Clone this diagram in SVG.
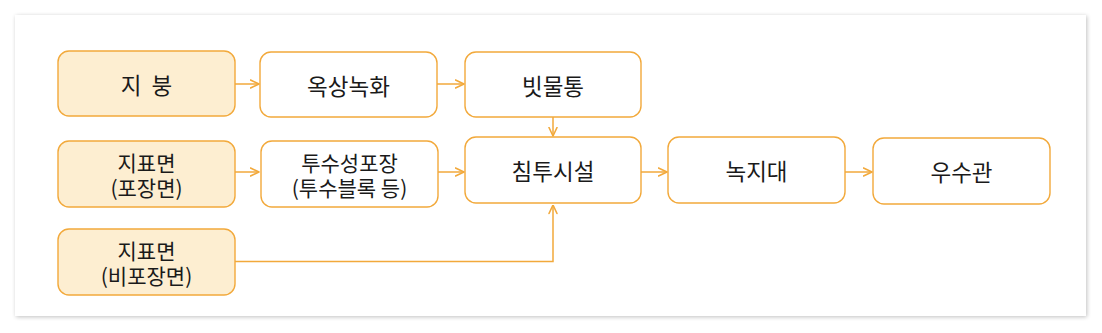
<svg xmlns="http://www.w3.org/2000/svg" width="1102" height="333" viewBox="0 0 1102 333">
  <defs>
    <filter id="sh" x="-5%" y="-10%" width="110%" height="120%">
      <feGaussianBlur in="SourceAlpha" stdDeviation="2"/>
      <feOffset dx="1" dy="1"/>
      <feComponentTransfer><feFuncA type="linear" slope="0.25"/></feComponentTransfer>
      <feMerge><feMergeNode/><feMergeNode in="SourceGraphic"/></feMerge>
    </filter>
    <marker id="ah" viewBox="0 0 10 10" refX="9.5" refY="5" markerWidth="10" markerHeight="10" markerUnits="userSpaceOnUse" orient="auto">
      <path d="M1,1 L9.5,5 L1,9" fill="none" stroke="#f2a93b" stroke-width="1.6" stroke-linejoin="round" stroke-linecap="round"/>
    </marker>
    <style>
      .box { fill: #ffffff; stroke: #f2a93b; stroke-width: 1.4; }
      .src { fill: #fdeed1; stroke: #f2a93b; stroke-width: 1.4; }
      .lbl { font-family: "Noto Sans CJK KR", "Noto Sans", sans-serif; font-size: 22.5px; font-weight: 400; fill: #1a1a1a; text-anchor: middle; dominant-baseline: central; }
      .two { font-size: 21px; }
      .ln { fill: none; stroke: #f2a93b; stroke-width: 1.5; marker-end: url(#ah); }
    </style>
  </defs>
  <rect x="0" y="0" width="1102" height="333" fill="#ffffff"/>
  <rect x="15" y="15" width="1071" height="301" fill="#ffffff" filter="url(#sh)"/>

  <g id="connectors">
    <path class="ln" d="M235,84 L259,84"/>
    <path class="ln" d="M437,84 L464,84"/>
    <path class="ln" d="M553,117 L553,136"/>
    <path class="ln" d="M235,172 L259,172"/>
    <path class="ln" d="M438,172 L464,172"/>
    <path class="ln" d="M641,172 L667,172"/>
    <path class="ln" d="M845,172 L872,172"/>
    <path class="ln" d="M235,261.5 L553,261.5 L553,205"/>
  </g>

  <g id="n-roof">
    <rect class="src" x="58" y="51" width="177" height="65" rx="11"/>
    <text class="lbl" x="146.5" y="83.5" xml:space="preserve">지  붕</text>
  </g>
  <g id="n-green-roof">
    <rect class="box" x="260" y="52" width="177" height="65" rx="11"/>
    <text class="lbl" x="348.5" y="84.5">옥상녹화</text>
  </g>
  <g id="n-rain-barrel">
    <rect class="box" x="465" y="52" width="176" height="65" rx="11"/>
    <text class="lbl" x="553" y="84.5">빗물통</text>
  </g>
  <g id="n-paved">
    <rect class="src" x="58" y="141" width="177" height="66" rx="11"/>
    <text class="lbl two" x="146.5" y="174"><tspan x="146.5" dy="-12">지표면</tspan><tspan x="146.5" dy="24.5">(포장면)</tspan></text>
  </g>
  <g id="n-permeable">
    <rect class="box" x="261" y="141" width="177" height="66" rx="11"/>
    <text class="lbl two" x="349.5" y="174"><tspan x="349.5" dy="-12">투수성포장</tspan><tspan x="349.5" dy="24.5">(투수블록 등)</tspan></text>
  </g>
  <g id="n-infiltration">
    <rect class="box" x="465" y="137" width="176" height="66" rx="11"/>
    <text class="lbl" x="553" y="170">침투시설</text>
  </g>
  <g id="n-greenbelt">
    <rect class="box" x="668" y="137" width="177" height="66" rx="11"/>
    <text class="lbl" x="756.5" y="170">녹지대</text>
  </g>
  <g id="n-storm-sewer">
    <rect class="box" x="873" y="138" width="177" height="66" rx="11"/>
    <text class="lbl" x="961.5" y="171">우수관</text>
  </g>
  <g id="n-unpaved">
    <rect class="src" x="58" y="229" width="177" height="66" rx="11"/>
    <text class="lbl two" x="146.5" y="262"><tspan x="146.5" dy="-12">지표면</tspan><tspan x="146.5" dy="24.5">(비포장면)</tspan></text>
  </g>
</svg>
